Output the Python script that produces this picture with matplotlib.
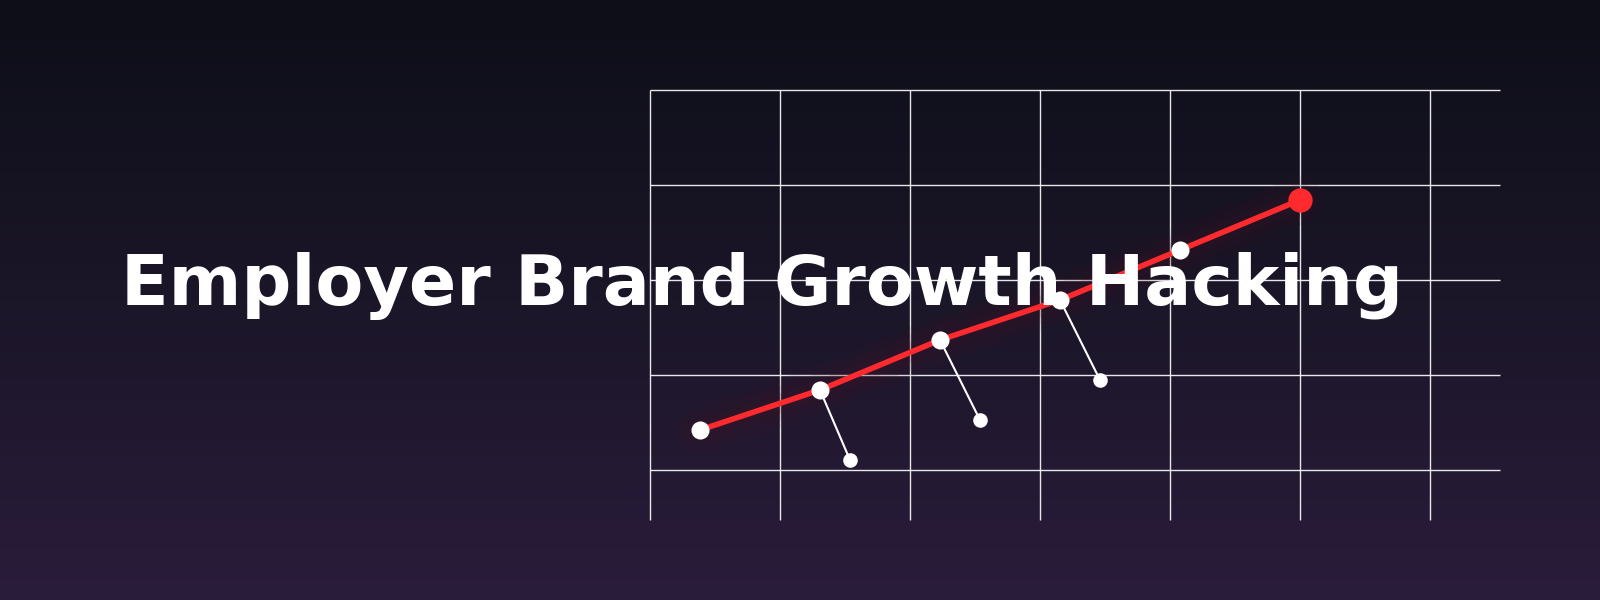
import numpy as np
import matplotlib
matplotlib.use("Agg")
import matplotlib.pyplot as plt
from matplotlib.colors import LinearSegmentedColormap

# Data (chart units: x to the right, y upward from the bottom of the grid)
steps_x = [50, 170, 290, 410, 530, 650]
growth_y = [90, 130, 180, 220, 270, 320]
branch_from = [1, 2, 3]
branch_x = [200, 330, 450]
branch_y = [60, 100, 140]
grid_x = [0, 130, 260, 390, 520, 650, 780]
grid_y = [50, 145, 240, 335, 430]
title = "Employer Brand Growth Hacking"

RED = "#ff2a2d"

fig = plt.figure(figsize=(16, 6), dpi=100)

# background gradient
bg = fig.add_axes([0, 0, 1, 1])
cmap = LinearSegmentedColormap.from_list("bg", ["#0d0e18", "#1b1628", "#2a1c3b"])
grad = np.linspace(0, 1, 256).reshape(-1, 1)
bg.imshow(grad, aspect="auto", cmap=cmap, extent=[0, 1, 0, 1], origin="upper")
bg.set_axis_off()

# chart area
ax = fig.add_axes([650 / 1600, 80 / 600, 850 / 1600, 430 / 600])
ax.set_xlim(0, 850)
ax.set_ylim(0, 430)
ax.patch.set_alpha(0)
ax.set_axis_off()

ax.vlines(grid_x, 0, 430, color="white", lw=1.0, alpha=0.9, clip_on=False, zorder=1)
ax.hlines(grid_y, 0, 850, color="white", lw=1.0, alpha=0.9, clip_on=False, zorder=1)

# glow under the growth line
for w, a in [(34, 0.08), (24, 0.10), (14, 0.12)]:
    ax.plot(steps_x, growth_y, color="#4a1222", lw=w, alpha=a,
            solid_capstyle="round", zorder=2, clip_on=False)

# branches
for i, bx, by in zip(branch_from, branch_x, branch_y):
    ax.plot([steps_x[i], bx], [growth_y[i], by], color="white", lw=1.5, zorder=3, clip_on=False)
ax.plot(branch_x, branch_y, "o", color="white", ms=10.5, mew=0, zorder=4, clip_on=False)

# main line
ax.plot(steps_x, growth_y, color=RED, lw=4.0, zorder=5, clip_on=False)
ax.plot(steps_x[:-1], growth_y[:-1], "o", color="white", ms=13, mew=0, zorder=6, clip_on=False)
ax.plot(steps_x[-1:], growth_y[-1:], "o", color=RED, ms=17.5, mew=0, zorder=6, clip_on=False)

# title
fig.text(762 / 1600, 1 - 305 / 600, title, color="white", fontsize=50.3,
         fontweight="bold", family="DejaVu Sans", ha="center", va="baseline", zorder=10)

fig.savefig("out.png", dpi=100)
